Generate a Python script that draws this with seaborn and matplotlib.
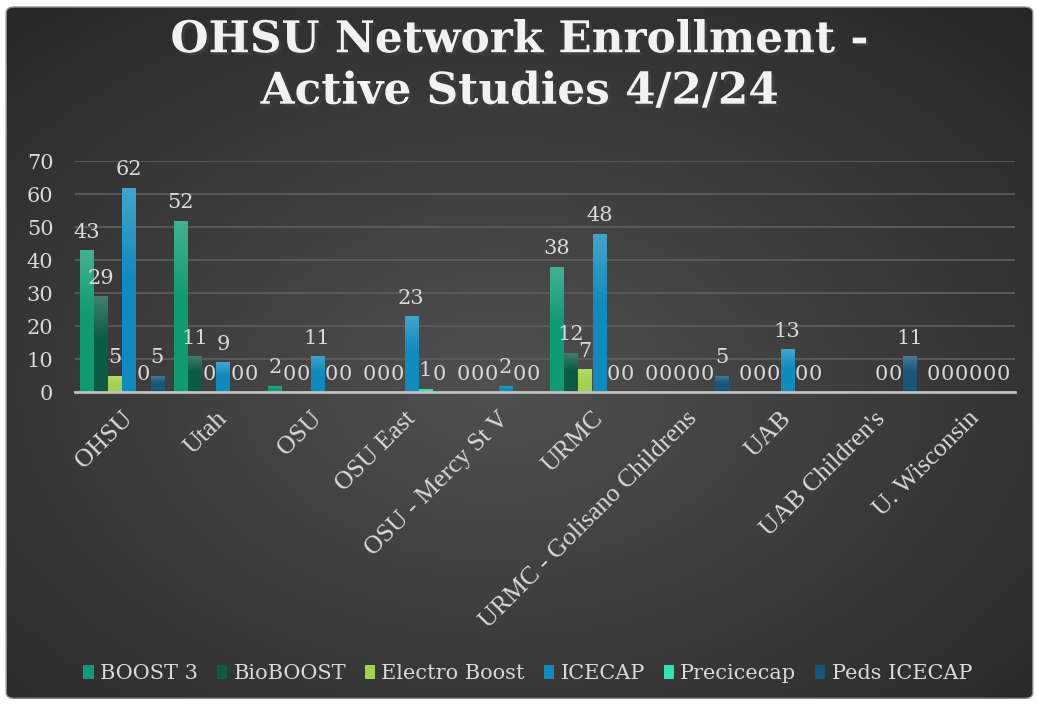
import numpy as np
import pandas as pd
import matplotlib.pyplot as plt
import matplotlib.colors as mcolors
from matplotlib.patches import FancyBboxPatch
import matplotlib.patheffects as pe
import seaborn as sns

sites = ['OHSU', 'Utah', 'OSU', 'OSU East', 'OSU - Mercy St V', 'URMC',
         'URMC - Golisano Childrens', 'UAB', "UAB Children's", 'U. Wisconsin']
studies = ['BOOST 3', 'BioBOOST', 'Electro Boost', 'ICECAP', 'Precicecap', 'Peds ICECAP']
boost3 = [43, 52, 2, 0, 0, 38, 0, 0, np.nan, 0]
bioboost = [29, 11, 0, 0, 0, 12, 0, 0, np.nan, 0]
electro = [5, 0, 0, 0, 0, 7, 0, 0, np.nan, 0]
icecap = [62, 9, 11, 23, 2, 48, 0, 13, 0, 0]
precicecap = [0, 0, 0, 1, 0, 0, 0, 0, 0, 0]
peds_icecap = [5, 0, 0, 0, 0, 0, 5, 0, 11, 0]
colors = ['#0f9b74', '#0c5c45', '#a5d24f', '#0f8bbd', '#2fe6b0', '#17587a']

series = [boost3, bioboost, electro, icecap, precicecap, peds_icecap]
df = pd.DataFrame({
    'site': sites * len(studies),
    'study': np.repeat(studies, len(sites)),
    'value': np.concatenate(series),
})

sns.set_style('dark')
plt.rcParams['font.family'] = ['DejaVu Serif']
txt = '#d9d9d9'

fig = plt.figure(figsize=(10.39, 7.04), dpi=100)
fig.patch.set_facecolor('white')

# dark radial background with rounded frame
bg = fig.add_axes([0, 0, 1, 1], zorder=-1)
bg.axis('off')
yy, xx = np.mgrid[0:1:300j, 0:1:400j]
r = np.clip(np.sqrt(((xx - 0.48) / 0.75) ** 2 + ((yy - 0.45) / 0.75) ** 2), 0, 1)
inner = np.array(mcolors.to_rgb('#505050'))
outer = np.array(mcolors.to_rgb('#262626'))
img = inner * (1 - r[..., None]) + outer * r[..., None]
im = bg.imshow(img, extent=[0, 1, 0, 1], aspect='auto', origin='lower')
frame = FancyBboxPatch((0.006, 0.008), 0.988, 0.982,
                       boxstyle='round,pad=0,rounding_size=0.008',
                       transform=bg.transAxes, facecolor='none',
                       edgecolor='#8c8c8c', lw=1)
bg.add_patch(frame)
im.set_clip_path(frame)
bg.set_xlim(0, 1)
bg.set_ylim(0, 1)

ax = fig.add_axes([0.0722, 0.443, 0.905, 0.328])
ax.set_facecolor('none')
sns.barplot(data=df, x='site', y='value', hue='study', order=sites,
            hue_order=studies, palette=colors, width=0.9, gap=0.06,
            saturation=1, errorbar=None, linewidth=0, ax=ax)

ax.set_ylim(0, 70)
ax.set_yticks(range(0, 71, 10))
xlim = ax.get_xlim()

# vertical gradient on bars (lighter top)
for cont in ax.containers:
    for p in cont.patches:
        h = p.get_height()
        if not np.isfinite(h) or h <= 0:
            continue
        base = np.array(mcolors.to_rgb(p.get_facecolor()))
        light = base + (1 - base) * 0.22
        t = np.linspace(0, 1, 64)
        w = np.clip((t - 0.55) / 0.45, 0, 1)[:, None]
        grad = base * (1 - w) + light * w
        gi = ax.imshow(grad[:, None, :], extent=[p.get_x(), p.get_x() + p.get_width(), 0, h],
                       origin='lower', aspect='auto', zorder=2.5)
        gi.set_clip_path(p)

ax.set_xlim(xlim)
ax.set_ylim(0, 70)

for cont in ax.containers:
    ax.bar_label(cont, fmt='%g', padding=6, color=txt, fontsize=15)

ax.grid(axis='y', color='#5c5c5c', lw=1.3)
ax.grid(axis='x', visible=False)
for s in ['top', 'right', 'left']:
    ax.spines[s].set_visible(False)
ax.spines['bottom'].set_color('#bfbfbf')
ax.spines['bottom'].set_linewidth(2)
ax.tick_params(axis='y', colors=txt, labelsize=15, length=0, pad=15.5)
ax.tick_params(axis='x', colors=txt, labelsize=18.5, length=0, pad=11)
plt.setp(ax.get_xticklabels(), rotation=45, ha='right', rotation_mode='anchor',
         family=['Liberation Serif'])
ax.set_xlabel('')
ax.set_ylabel('')

handles, labels = ax.get_legend_handles_labels()
ax.legend(handles, labels, loc='center', bbox_to_anchor=(0.508, 0.043),
          bbox_transform=fig.transFigure, ncol=6, frameon=False,
          fontsize=15, labelcolor=txt, handlelength=0.5, handleheight=0.65,
          handletextpad=0.3, columnspacing=0.9)

fig.text(0.5, 0.907, 'OHSU Network Enrollment -\nActive Studies 4/2/24',
         ha='center', va='center', color='#f2f2f2', fontsize=31.5,
         fontweight='bold', linespacing=1.25,
         path_effects=[pe.withSimplePatchShadow(offset=(2, -2), alpha=0.5)])

fig.savefig('out.png', dpi=100, facecolor=fig.get_facecolor())
